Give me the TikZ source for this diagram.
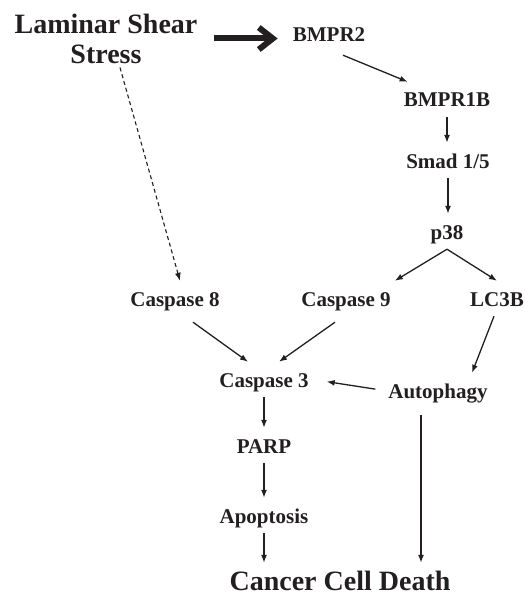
\documentclass[tikz,border=0pt]{standalone}
\usepackage{fontspec}
\setmainfont{Liberation Serif}
\usetikzlibrary{arrows.meta, calc}
\definecolor{ink}{HTML}{231F20}

\begin{document}
\begin{tikzpicture}[
  x=1pt, y=-1pt,
  >={Latex[length=8pt, width=6pt]},
  lab/.style={font=\fontsize{21}{24}\selectfont\bfseries, text=ink,
    text height=20pt, text depth=5pt, inner xsep=4pt, inner ysep=5pt,
    anchor=base},
  big/.style={font=\fontsize{28}{30}\selectfont\bfseries, text=ink,
    align=center, inner sep=4pt},
  link/.style={->, draw=ink, line width=1.3pt},
  fat/.style={-{Straight Barb[length=14pt, width=22pt]}, draw=ink,
    line width=6pt},
]

% Canvas
\useasboundingbox (0,0) rectangle (524,596);

% === Stimulus and receptor chain ===
\node[big] (lss) at (106,38.5) {Laminar Shear\\Stress};
\node[lab] (bmpr2)  at (329,42)  {BMPR2};
\node[lab] (bmpr1b) at (447,107) {BMPR1B};
\node[lab] (smad)   at (448,168) {Smad 1/5};
\node[lab] (p38)    at (447,239) {p38};

% === Caspases and autophagy ===
\node[lab] (casp8)  at (175,306) {Caspase 8};
\node[lab] (casp9)  at (346,306) {Caspase 9};
\node[lab] (lc3b)   at (497,306) {LC3B};
\node[lab] (casp3)  at (264,387) {Caspase 3};
\node[lab] (autoph) at (438,398) {Autophagy};
\node[lab] (parp)   at (264,453) {PARP};
\node[lab] (apop)   at (264,523) {Apoptosis};

% === Outcome ===
\node[big, text height=22pt, text depth=0pt, inner ysep=5pt, anchor=base]
  (ccd) at (340,590) {Cancer Cell Death};

% Thick stimulus arrow
\draw[fat, shorten <=12pt, shorten >=11pt]
  (lss.east) -- (lss.east -| bmpr2.west);

% Dashed path to caspase 8
\draw[link, dash pattern=on 4pt off 3pt, line width=1.1pt]
  ([xshift=14pt]lss.south) -- ([xshift=5pt]casp8.north);

% Receptor cascade
\draw[link] ([xshift=14pt,yshift=-3pt]bmpr2.south)
  -- ([xshift=8pt]bmpr1b.north west);
\draw[link] (bmpr1b.south) -- (bmpr1b.south |- smad.north);
\draw[link] (smad.south) -- (smad.south |- p38.north);
\draw[link] (p38.south) -- (casp9.north east);
\draw[link] (p38.south) -- (lc3b.north);

% Apoptotic branch
\draw[link] ([xshift=18pt,yshift=-6pt]casp8.south) -- ([xshift=-16pt]casp3.north);
\draw[link] ([xshift=-11pt,yshift=-6pt]casp9.south) -- ([xshift=15pt]casp3.north);
\draw[link] (casp3.south) -- (casp3.south |- parp.north);
\draw[link] (parp.south) -- (parp.south |- apop.north);
\draw[link] (apop.south) -- (apop.south |- ccd.north);

% Autophagic branch
\draw[link] ([xshift=-3pt]lc3b.south) -- ([xshift=34pt]autoph.north);
\draw[link, shorten <=9pt, shorten >=14pt] (autoph.west) -- (casp3.east);
\draw[link, shorten <=7pt] ([xshift=-17pt]autoph.south)
  -- ([xshift=-17pt]autoph.south |- ccd.north);

\end{tikzpicture}
\end{document}
